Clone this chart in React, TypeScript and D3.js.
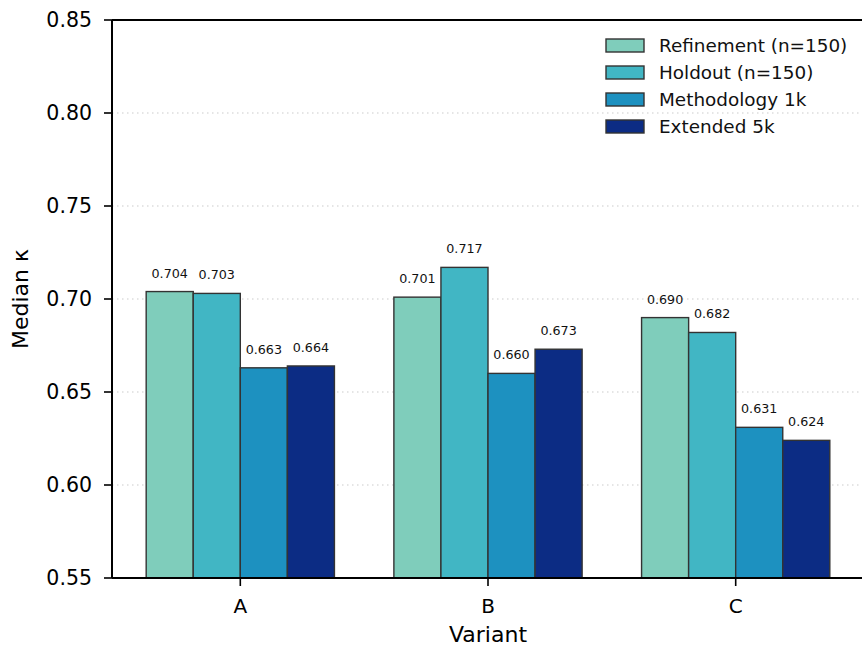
import React from "react";
import * as d3 from "d3";

const variants = ["A", "B", "C"];
const seriesNames = ["Refinement (n=150)", "Holdout (n=150)", "Methodology 1k", "Extended 5k"];
const refinement = [0.704, 0.701, 0.69];
const holdout = [0.703, 0.717, 0.682];
const methodology = [0.663, 0.66, 0.631];
const extended = [0.664, 0.673, 0.624];
const yTicks = [0.55, 0.6, 0.65, 0.7, 0.75, 0.8, 0.85];
const colors = ["#7fcdbb", "#41b6c4", "#1d91c0", "#0c2c84"];

const W = 862;
const H = 647;
const M = { left: 112, right: 864, top: 20, bottom: 578 };
const font = "'DejaVu Sans', sans-serif";

export default function App() {
  const series = [refinement, holdout, methodology, extended];
  const x = d3.scaleLinear().domain([-0.518, 2.518]).range([M.left, M.right]);
  const y = d3.scaleLinear().domain([0.55, 0.85]).range([M.bottom, M.top]);
  const bw = 0.19;
  const gridTicks = yTicks.filter((t) => t > 0.55 && t < 0.85);

  return (
    <svg width={W} height={H} style={{ position: "absolute", left: 0, top: 0, background: "#fff" }} fontFamily={font}>
      <rect x={0} y={0} width={W} height={H} fill="#fff" />
      {gridTicks.map((t) => (
        <line key={"g" + t} x1={M.left} x2={M.right} y1={y(t)} y2={y(t)} stroke="#cccccc" strokeWidth={1.2} strokeDasharray="1.5,3.5" />
      ))}
      {series.map((vals, si) =>
        vals.map((v, vi) => {
          const x0 = x(vi - 2 * bw + si * bw);
          const x1 = x(vi - 2 * bw + (si + 1) * bw);
          return (
            <g key={`b${si}-${vi}`}>
              <rect x={x0} y={y(v)} width={x1 - x0} height={y(0.55) - y(v)} fill={colors[si]} stroke="#333333" strokeWidth={1.4} />
              <text x={(x0 + x1) / 2} y={y(v) - 14} textAnchor="middle" fontSize={12.7} fill="#111">
                {v.toFixed(3)}
              </text>
            </g>
          );
        })
      )}
      {/* spines */}
      <line x1={M.left} x2={M.left} y1={M.top} y2={M.bottom} stroke="#000" strokeWidth={2} />
      <line x1={M.left} x2={M.right} y1={M.top} y2={M.top} stroke="#000" strokeWidth={2} />
      <line x1={M.left} x2={M.right} y1={M.bottom} y2={M.bottom} stroke="#000" strokeWidth={2} />
      <line x1={M.right} x2={M.right} y1={M.top} y2={M.bottom} stroke="#000" strokeWidth={2} />
      {yTicks.map((t) => (
        <g key={"yt" + t}>
          <line x1={M.left - 8} x2={M.left} y1={y(t)} y2={y(t)} stroke="#000" strokeWidth={1.6} />
          <text x={M.left - 20} y={y(t)} dy="0.36em" textAnchor="end" fontSize={20.5} fill="#000">
            {t.toFixed(2)}
          </text>
        </g>
      ))}
      {variants.map((v, i) => (
        <g key={"xt" + v}>
          <line x1={x(i)} x2={x(i)} y1={M.bottom} y2={M.bottom + 8} stroke="#000" strokeWidth={1.6} />
          <text x={x(i)} y={612.7} textAnchor="middle" fontSize={20} fill="#000">
            {v}
          </text>
        </g>
      ))}
      <text x={(M.left + M.right) / 2} y={642} textAnchor="middle" fontSize={22} fill="#000">
        Variant
      </text>
      <text transform={`translate(28.3,${(M.top + M.bottom) / 2}) rotate(-90)`} textAnchor="middle" fontSize={22} fill="#000">
        Median κ
      </text>
      {seriesNames.map((n, i) => (
        <g key={"lg" + i}>
          <rect x={606} y={39 + i * 27} width={38} height={13} fill={colors[i]} stroke="#333333" strokeWidth={1.4} />
          <text x={659} y={45.5 + i * 27} dy="0.36em" fontSize={18.4} fill="#111">
            {n}
          </text>
        </g>
      ))}
    </svg>
  );
}
